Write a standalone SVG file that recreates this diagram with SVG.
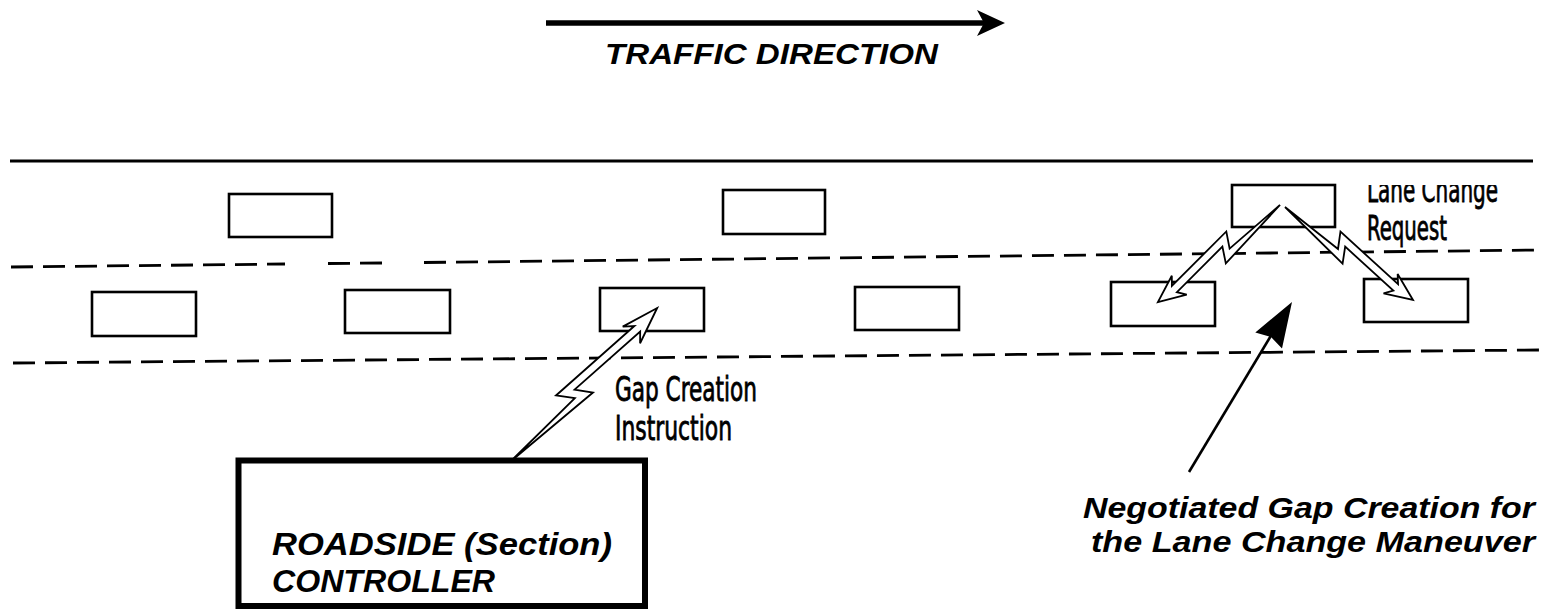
<svg xmlns="http://www.w3.org/2000/svg" width="1549" height="610" viewBox="0 0 1549 610">
<style>
.car{fill:#fff;stroke:#000;stroke-width:2.6}
.road{fill:none;stroke:#000;stroke-width:3}
.dash{fill:none;stroke:#000;stroke-width:2.8;stroke-dasharray:22 10}
.bold{font-family:"Liberation Sans",Arial,sans-serif;font-weight:700;font-style:italic;fill:#000}
.cond{font-family:"Liberation Sans Narrow","DejaVu Sans Condensed","Liberation Sans",sans-serif;font-stretch:condensed;font-weight:400;fill:#000;stroke:#000;stroke-width:0.8}
.bolt{fill:#fff;stroke:#000;stroke-width:1.8;stroke-linejoin:miter;vector-effect:non-scaling-stroke}
</style>
<defs>
<path id="boltShape" class="bolt" d="M0,0 L101,12 L91,-3.3 L173,4 L165,12 L200,0 L165,-12 L173,-4 L75,-12.7 L85.4,2.8 Z"/>
<clipPath id="clipLane"><rect x="1340" y="185" width="209" height="60"/></clipPath>
</defs>

<!-- traffic direction -->
<g id="traffic-direction">
<line x1="546" y1="23" x2="988" y2="23" stroke="#000" stroke-width="5.5"/>
<polygon points="1005,23 977,10 984,23 977,36" fill="#000"/>
<text class="bold" x="605" y="64" font-size="30" textLength="333" lengthAdjust="spacingAndGlyphs">TRAFFIC DIRECTION</text>
</g>

<!-- road -->
<g id="road">
<line class="road" x1="10" y1="161" x2="1533" y2="161"/>
<path class="dash" d="M11,267 L285,264 M328,263.5 L382,263 M424,262.5 L1540,250"/>
<path class="dash" d="M13,363 L1540,350"/>
</g>

<!-- vehicles -->
<g id="car-top-1"><rect class="car" x="229" y="194" width="103" height="43"/></g>
<g id="car-top-2"><rect class="car" x="723" y="190" width="102" height="44"/></g>
<g id="car-top-3"><rect class="car" x="1232" y="185" width="103" height="42"/></g>
<g id="car-mid-1"><rect class="car" x="92" y="292" width="104" height="44"/></g>
<g id="car-mid-2"><rect class="car" x="345" y="290" width="105" height="43"/></g>
<g id="car-mid-3"><rect class="car" x="600" y="288" width="104" height="43"/></g>
<g id="car-mid-4"><rect class="car" x="855" y="287" width="104" height="43"/></g>
<g id="car-mid-5"><rect class="car" x="1111" y="282" width="104" height="44"/></g>
<g id="car-mid-6"><rect class="car" x="1364" y="279" width="104" height="43"/></g>

<!-- controller -->
<g id="roadside-controller">
<rect x="238.5" y="460.5" width="406.5" height="145.5" fill="#fff" stroke="#000" stroke-width="6"/>
<text class="bold" x="272" y="555" font-size="32" textLength="340" lengthAdjust="spacingAndGlyphs">ROADSIDE (Section)</text>
<text class="bold" x="272" y="592" font-size="32" textLength="223" lengthAdjust="spacingAndGlyphs">CONTROLLER</text>
</g>

<!-- connectors -->
<g id="connectors">
<use href="#boltShape" transform="translate(510,462) rotate(-46.3) scale(1.065,1)"/>
<use href="#boltShape" transform="translate(1280,205) rotate(141.5) scale(0.78,-1)"/>
<use href="#boltShape" transform="translate(1285,207) rotate(36) scale(0.791,1)"/>
<line x1="1189" y1="472" x2="1272" y2="334" stroke="#000" stroke-width="2.6"/>
<polygon points="1292,302 1282,348.6 1271,337 1255.3,332.4" fill="#000"/>
</g>

<!-- labels -->
<g id="label-gap-creation">
<text class="cond" x="615" y="401" font-size="34" textLength="142" lengthAdjust="spacingAndGlyphs">Gap Creation</text>
<text class="cond" x="615" y="440" font-size="34" textLength="117" lengthAdjust="spacingAndGlyphs">Instruction</text>
</g>
<g id="label-lane-change">
<text class="cond" x="1367" y="202" font-size="34" textLength="131" lengthAdjust="spacingAndGlyphs" clip-path="url(#clipLane)">Lane Change</text>
<text class="cond" x="1367" y="240" font-size="34" textLength="80" lengthAdjust="spacingAndGlyphs">Request</text>
</g>
<g id="label-negotiated">
<text class="bold" x="1083" y="518" font-size="30" textLength="452" lengthAdjust="spacingAndGlyphs">Negotiated Gap Creation for</text>
<text class="bold" x="1091" y="552" font-size="30" textLength="444" lengthAdjust="spacingAndGlyphs">the Lane Change Maneuver</text>
</g>
</svg>
